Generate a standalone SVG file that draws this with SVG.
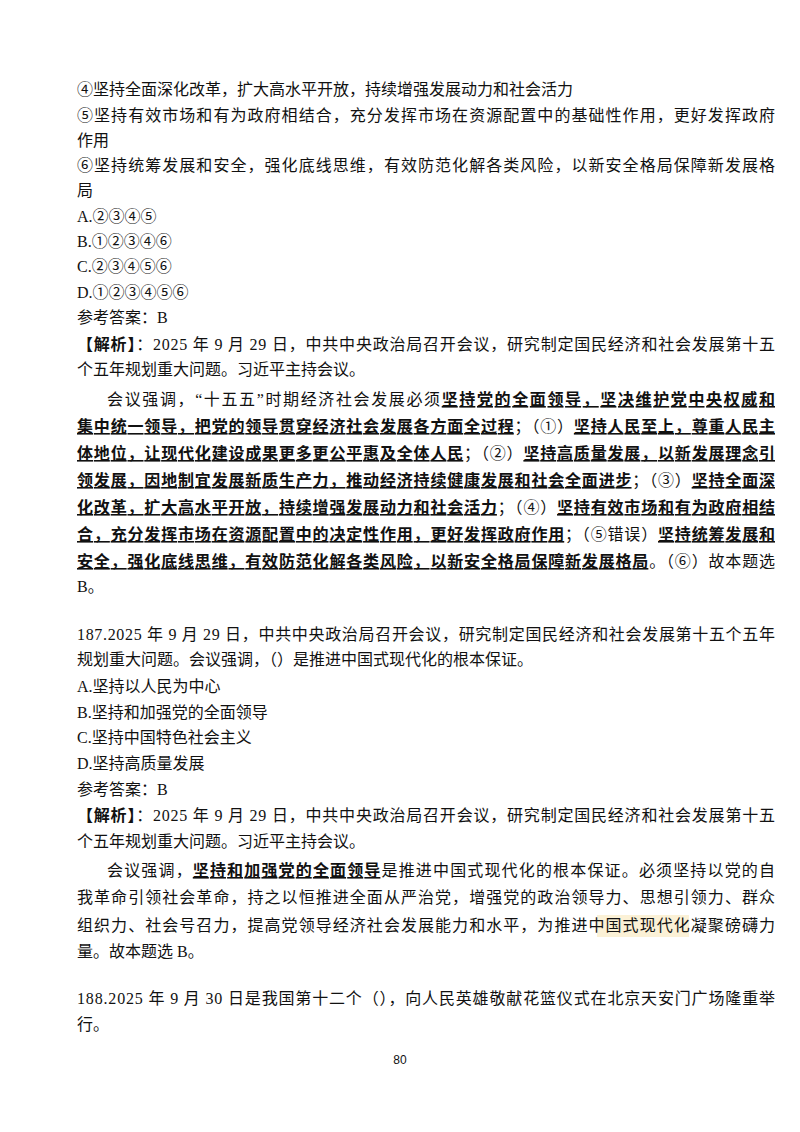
<svg xmlns="http://www.w3.org/2000/svg" width="800" height="1132" viewBox="0 0 800 1132">
<style>
text{font-family:"Liberation Serif","Noto Sans CJK SC",serif;font-size:16px;fill:#111}
.b{font-weight:bold;text-decoration:underline}
.pg{font-family:"Liberation Sans",sans-serif;font-size:12px}
</style>
<rect width="800" height="1132" fill="#fff"/>
<rect x="597" y="915" width="92" height="22" fill="#fbf1d6"/>
<g id="q186-options">
<text x="77" y="95">④坚持全面深化改革，扩大高水平开放，持续增强发展动力和社会活力</text>
<text x="77" y="121" textLength="698" lengthAdjust="spacing">⑤坚持有效市场和有为政府相结合，充分发挥市场在资源配置中的基础性作用，更好发挥政府</text>
<text x="77" y="146">作用</text>
<text x="77" y="171" textLength="698" lengthAdjust="spacing">⑥坚持统筹发展和安全，强化底线思维，有效防范化解各类风险，以新安全格局保障新发展格</text>
<text x="77" y="196">局</text>
<text x="77" y="222">A.②③④⑤</text>
<text x="77" y="247">B.①②③④⑥</text>
<text x="77" y="272">C.②③④⑤⑥</text>
<text x="77" y="298">D.①②③④⑤⑥</text>
<text x="77" y="323">参考答案：B</text>
</g>
<g id="q186-analysis">
<text x="77" y="350" textLength="698" lengthAdjust="spacing"><tspan font-weight="bold">【解析】</tspan>：2025 年 9 月 29 日，中共中央政治局召开会议，研究制定国民经济和社会发展第十五</text>
<text x="77" y="375">个五年规划重大问题。习近平主持会议。</text>
<text x="107" y="405" textLength="668" lengthAdjust="spacing">会议强调，“十五五”时期经济社会发展必须<tspan class="b">坚持党的全面领导，坚决维护党中央权威和</tspan></text>
<text x="77" y="432" textLength="698" lengthAdjust="spacing"><tspan class="b">集中统一领导，把党的领导贯穿经济社会发展各方面全过程</tspan>；（①）<tspan class="b">坚持人民至上，尊重人民主</tspan></text>
<text x="77" y="459" textLength="698" lengthAdjust="spacing"><tspan class="b">体地位，让现代化建设成果更多更公平惠及全体人民</tspan>；（②）<tspan class="b">坚持高质量发展，以新发展理念引</tspan></text>
<text x="77" y="486" textLength="698" lengthAdjust="spacing"><tspan class="b">领发展，因地制宜发展新质生产力，推动经济持续健康发展和社会全面进步</tspan>；（③）<tspan class="b">坚持全面深</tspan></text>
<text x="77" y="513" textLength="698" lengthAdjust="spacing"><tspan class="b">化改革，扩大高水平开放，持续增强发展动力和社会活力</tspan>；（④）<tspan class="b">坚持有效市场和有为政府相结</tspan></text>
<text x="77" y="540" textLength="698" lengthAdjust="spacing"><tspan class="b">合，充分发挥市场在资源配置中的决定性作用，更好发挥政府作用</tspan>；（⑤错误）<tspan class="b">坚持统筹发展和</tspan></text>
<text x="77" y="567" textLength="698" lengthAdjust="spacing"><tspan class="b">安全，强化底线思维，有效防范化解各类风险，以新安全格局保障新发展格局</tspan>。（⑥）故本题选</text>
<text x="77" y="592">B。</text>
</g>
<g id="q187">
<text x="77" y="640" textLength="698" lengthAdjust="spacing">187.2025 年 9 月 29 日，中共中央政治局召开会议，研究制定国民经济和社会发展第十五个五年</text>
<text x="77" y="665">规划重大问题。会议强调，（）是推进中国式现代化的根本保证。</text>
<text x="77" y="692">A.坚持以人民为中心</text>
<text x="77" y="718">B.坚持和加强党的全面领导</text>
<text x="77" y="743">C.坚持中国特色社会主义</text>
<text x="77" y="769">D.坚持高质量发展</text>
<text x="77" y="795">参考答案：B</text>
<text x="77" y="821" textLength="698" lengthAdjust="spacing"><tspan font-weight="bold">【解析】</tspan>：2025 年 9 月 29 日，中共中央政治局召开会议，研究制定国民经济和社会发展第十五</text>
<text x="77" y="847">个五年规划重大问题。习近平主持会议。</text>
<text x="107" y="876" textLength="668" lengthAdjust="spacing">会议强调，<tspan class="b">坚持和加强党的全面领导</tspan>是推进中国式现代化的根本保证。必须坚持以党的自</text>
<text x="77" y="903" textLength="698" lengthAdjust="spacing">我革命引领社会革命，持之以恒推进全面从严治党，增强党的政治领导力、思想引领力、群众</text>
<text x="77" y="931" textLength="698" lengthAdjust="spacing">组织力、社会号召力，提高党领导经济社会发展能力和水平，为推进中国式现代化凝聚磅礴力</text>
<text x="77" y="957">量。故本题选 B。</text>
</g>
<g id="q188">
<text x="77" y="1004" textLength="698" lengthAdjust="spacing">188.2025 年 9 月 30 日是我国第十二个（），向人民英雄敬献花篮仪式在北京天安门广场隆重举</text>
<text x="77" y="1030">行。</text>
</g>
<text class="pg" x="400" y="1064" text-anchor="middle">80</text>
</svg>
